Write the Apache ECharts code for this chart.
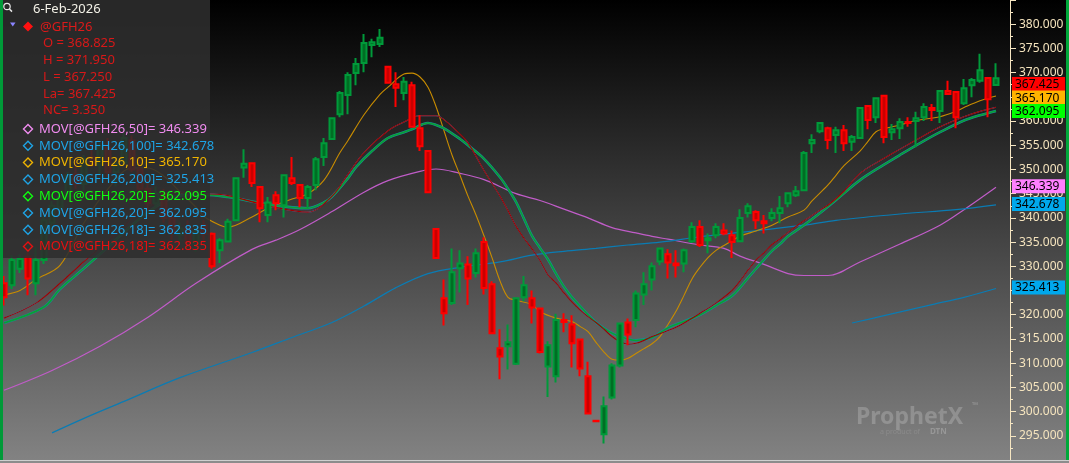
<!DOCTYPE html>
<html><head><meta charset="utf-8">
<script src="https://cdn.jsdelivr.net/npm/echarts@6/dist/echarts.min.js"></script>
<style>html,body{margin:0;padding:0;background:#000;}#c{width:1069px;height:463px;}</style>
</head><body><div id="c"></div>
<script>
// ---------------- DATA ----------------
const opens = [326.5,326.1,329.5,332.0,326.5,331.3,339.0,342.2,344.5,349.0,347.0,352.5,351.0,354.5,349.5,351.5,356.0,350.0,346.0,343.0,345.0,340.0,336.5,337.8,334.5,338.5,
336.7,333.3,335.1,339.5,350.4,351.3,346.4,340.6,344.7,342.6,348.2,346.8,344.1,346.8,352.6,356.3,361.4,365.4,369.9,372.0,375.7,375.9,371.2,367.6,365.8,367.4,358.5,353.8,
337.7,323.4,322.4,329.6,330.4,328.6,335.0,326.3,313.1,313.5,309.9,323.6,323.4,321.3,309.3,307.3,318.9,318.0,314.9,307.3,298.1,295.3,302.9,309.5,318.4,318.9,324.2,327.3,
331.0,332.5,330.6,330.6,335.2,338.1,335.4,336.4,337.4,336.4,335.2,341.0,341.2,339.3,340.0,341.0,343.0,344.7,345.7,355.4,357.9,358.5,357.1,358.1,355.7,356.5,363.1,360.8,
365.2,357.7,358.5,359.8,360.0,360.8,362.7,362.1,366.2,366.0,363.7,367.4,368.3,368.9,368.825];
const highs = [328.0,332.3,332.5,333.0,334.0,340.5,343.5,345.5,349.5,352.5,353.0,356.0,355.5,356.5,352.0,357.5,357.0,352.5,348.0,346.5,346.0,341.5,339.0,339.5,338.0,339.5,
337.0,335.8,339.8,348.4,354.2,351.5,346.6,344.3,345.5,349.0,352.6,347.0,346.8,352.6,356.5,360.8,366.2,370.1,373.0,378.0,377.0,379.0,371.3,370.1,369.1,368.1,361.2,353.9,
337.8,327.3,333.7,333.3,332.1,333.7,336.0,326.9,317.0,318.0,323.5,328.0,325.0,321.4,314.5,320.2,320.3,319.9,315.0,310.3,298.1,303.1,310.0,318.4,319.2,325.0,328.8,330.8,
333.9,333.5,333.3,333.7,339.1,339.5,336.8,338.9,338.9,337.4,341.8,343.0,341.6,340.6,342.0,344.5,345.3,346.6,353.8,357.3,359.8,358.8,358.8,359.2,357.1,362.9,363.3,364.9,
365.4,359.4,360.6,360.8,361.9,363.7,363.5,366.4,368.3,366.1,368.7,368.9,373.9,369.0,371.95];
const lows = [321.9,325.3,328.6,324.0,324.0,330.5,337.5,340.5,343.8,346.0,345.5,350.5,349.0,348.5,346.5,351.0,349.5,345.0,341.5,342.0,339.0,335.5,335.0,334.0,333.0,334.5,
329.5,330.7,335.0,339.3,348.3,346.4,339.1,339.1,341.6,340.1,346.8,342.2,342.0,345.7,350.7,356.2,360.8,361.4,367.4,370.1,373.2,375.3,367.7,362.9,364.3,358.6,353.8,345.1,
331.6,317.8,322.0,324.6,322.0,327.7,324.2,316.0,306.7,308.7,309.6,322.8,318.2,312.0,303.0,306.0,316.4,309.1,307.3,299.4,298.0,293.4,302.5,309.1,313.7,317.4,322.0,325.0,
330.2,327.5,327.7,328.8,334.8,334.0,332.7,335.8,336.4,331.7,335.0,340.1,337.7,336.8,339.3,338.9,342.2,344.3,345.5,353.4,357.5,354.2,353.4,353.8,353.8,356.3,358.3,359.6,
355.4,356.1,356.3,358.8,354.6,360.0,360.0,359.6,365.4,358.5,363.3,364.9,367.9,360.8,367.25];
const closes = [323.6,331.3,331.5,327.5,331.3,339.5,342.5,344.3,348.8,347.0,352.2,351.0,354.8,349.5,351.2,356.5,350.0,346.0,343.0,345.0,340.0,337.0,337.8,335.0,337.2,336.7,
330.0,335.4,339.2,348.2,351.2,347.2,342.0,343.2,343.0,348.8,347.2,344.1,346.4,352.1,355.4,360.6,365.8,369.5,371.8,376.1,376.3,377.2,367.9,366.9,368.1,358.8,354.8,345.3,
331.7,320.3,328.8,330.6,327.5,332.7,325.5,316.2,311.4,314.3,323.4,326.1,321.5,312.3,313.7,318.9,318.5,314.1,308.9,299.6,298.0,301.1,309.5,318.2,315.9,324.4,326.3,330.0,
333.7,330.8,330.2,333.3,338.1,334.4,335.8,338.1,336.8,335.0,340.0,342.4,339.5,338.9,341.0,342.0,345.1,345.5,353.4,356.1,359.6,356.1,358.1,355.4,356.7,362.7,360.2,364.7,
356.7,358.3,359.8,359.6,360.6,362.9,362.3,366.2,365.6,360.8,366.8,368.5,370.5,364.5,367.425];
const categories = opens.map((_, i) => String(i + 1));

// moving averages read at bar positions [barIndex, value]
const ma10 = [[0,324.1],[2,325.0],[4,327.3],[7,330.2],[10,339.0],[13,346.0],[16,350.3],[18,350.3],[20,348.6],[22,345.4],[24,342.2],[25,340.3],[27,338.5],[28,338.1],[31,340.2],[33,342.0],[36,343.9],[38,345.0],[40,347.8],[42,353.5],[43,356.0],[45,361.3],[47,365.5],[48,367.0],[50,369.7],[51,369.9],[52,369.1],[53,367.0],[54,363.0],[55,358.0],[56,353.0],[57,348.8],[58,344.5],[59,340.6],[60,336.3],[61,331.8],[62,327.0],[63,323.6],[64,323.0],[66,322.1],[67,320.6],[69,319.3],[71,318.6],[72,317.6],[73,316.5],[74,314.3],[75,312.3],[76,310.8],[77,310.6],[78,311.0],[79,312.0],[80,313.0],[81,314.0],[82,315.5],[83,318.0],[84,320.7],[85,324.0],[86,327.4],[87,329.8],[88,331.8],[89,333.3],[90,334.3],[92,336.2],[94,337.3],[96,338.5],[98,340.2],[100,341.6],[101,343.5],[103,346.8],[104,348.8],[105,350.8],[107,353.8],[108,355.8],[109,357.8],[110,358.4],[112,359.2],[114,360.1],[117,360.9],[119,362.0],[120,362.8],[122,364.2],[124,365.17]];
const ma20 = [[0,318.3],[5,321.6],[7,325.3],[10,329.6],[13,334.0],[16,338.5],[19,342.3],[22,344.6],[25,344.8],[28,344.3],[33,342.8],[38,342.0],[40,343.2],[41,344.4],[43,348.2],[44,350.5],[46,353.8],[48,356.5],[50,357.7],[51,358.3],[53,359.6],[54,359.2],[55,358.5],[57,356.3],[58,355.0],[60,352.2],[62,348.4],[63,346.0],[64,343.3],[65,339.8],[66,336.3],[67,333.8],[68,331.4],[69,328.5],[70,325.8],[71,323.6],[72,321.8],[73,320.0],[74,318.4],[75,317.2],[76,316.2],[77,315.5],[79,314.7],[81,315.3],[83,317.3],[85,318.6],[87,320.0],[89,321.9],[91,323.9],[92,325.6],[93,327.6],[94,329.5],[95,331.4],[96,333.2],[97,334.6],[98,336.2],[100,338.5],[102,341.0],[104,343.7],[107,347.8],[110,351.0],[112,353.0],[115,355.9],[117,357.7],[120,360.1],[122,361.2],[124,362.095]];
const ma18 = [[0,319.3],[4,322.4],[7,326.5],[10,331.0],[13,335.3],[16,339.8],[19,343.2],[22,345.3],[25,345.0],[28,344.6],[33,342.5],[38,341.2],[41,344.5],[43,349.0],[45,353.5],[48,358.0],[50,359.8],[52,361.1],[54,361.1],[55,360.3],[57,357.3],[58,355.5],[60,349.8],[62,344.5],[63,341.5],[64,338.3],[65,335.8],[66,333.6],[67,331.2],[68,328.2],[69,326.6],[70,324.5],[71,322.6],[72,321.0],[73,319.6],[74,318.4],[75,317.0],[76,315.5],[77,314.4],[78,313.9],[79,314.1],[80,314.7],[81,315.5],[84,317.4],[87,320.3],[89,322.4],[91,325.0],[92,327.0],[93,329.2],[94,331.3],[95,332.8],[96,334.5],[97,335.7],[98,337.0],[100,339.4],[102,341.6],[103,342.6],[105,345.5],[107,349.2],[110,352.3],[112,354.2],[115,357.0],[117,358.8],[120,360.9],[122,362.0],[124,362.835]];
const ma50 = [[0,304.4],[6,308.5],[12,313.5],[18,319.5],[24,326.5],[31,333.5],[34,335.4],[37,337.6],[41,341.3],[45,345.3],[48,347.7],[52,349.6],[54,350.1],[57,349.2],[60,347.9],[64,345.0],[67,343.6],[70,341.8],[73,340.0],[76,338.0],[79,336.9],[81,336.2],[83,335.6],[87,334.4],[90,333.7],[92,332.1],[95,330.4],[98,328.5],[100,328.1],[103,328.1],[107,330.9],[112,334.6],[117,338.5],[120,341.7],[124,346.339]];
const ma100 = [[6,295.6],[10,298.6],[15,302.1],[22,307.0],[31,312.2],[36,315.3],[41,318.4],[45,321.8],[49,325.6],[53,328.5],[57,329.8],[62,330.9],[66,332.3],[70,333.1],[74,333.7],[78,334.4],[82,335.0],[87,336.1],[92,337.0],[100,338.5],[104,339.5],[112,340.8],[119,341.7],[124,342.678]];
const ma200 = [[106,318.3],[110,319.8],[116,322.1],[120,323.6],[124,325.413]];

// legend / header texts
const dateText = '6-Feb-2026';
const symbolText = '@GFH26';
const quoteLines = ['O = 368.825', 'H = 371.950', 'L = 367.250', 'La= 367.425', 'NC= 3.350'];
const studyLines = ['MOV[@GFH26,50]= 346.339', 'MOV[@GFH26,100]= 342.678', 'MOV[@GFH26,10]= 365.170', 'MOV[@GFH26,200]= 325.413',
  'MOV[@GFH26,20]= 362.095', 'MOV[@GFH26,20]= 362.095', 'MOV[@GFH26,18]= 362.835', 'MOV[@GFH26,18]= 362.835'];
const studyColors = ['#f08cf0', '#1ea4e6', '#f0b400', '#1ea4e6', '#10ff10', '#1ea4e6', '#1ea4e6', '#e81010'];
const tagValues = [367.425, 365.170, 362.095, 346.339, 342.678, 325.413];
const tagColors = ['#ff0000', '#ffb400', '#00ff00', '#ff80ff', '#00a8ec', '#00a8ec'];

// ---------------- CHART ----------------
const UP = {fill: '#006e24', border: '#009a3a'};
const DN = {fill: '#c80000', border: '#ff0000'};
const candleData = opens.map((o, i) => {
  const up = i === 0 ? closes[i] >= o : closes[i] >= closes[i - 1];
  const c = up ? UP : DN;
  return {value: [o, closes[i], lows[i], highs[i]],
    itemStyle: {color: c.fill, color0: c.fill, borderColor: c.border, borderColor0: c.border, borderColorDoji: c.border}};
});

function lineSeries(name, data, color, width, z) {
  return {name, type: 'line', data, smooth: 0.35, showSymbol: false, symbol: 'none', connectNulls: true,
    lineStyle: {color, width}, z: z || 2, silent: true, animation: false};
}

const chart = echarts.init(document.getElementById('c'), null, {renderer: 'canvas'});
const FONT = '"Noto Sans", "Open Sans", sans-serif';
chart.setOption({
  animation: false,
  backgroundColor: {type: 'linear', x: 0, y: 0, x2: 0, y2: 1,
    colorStops: [{offset: 0, color: '#000000'}, {offset: 1, color: '#838383'}]},
  grid: {left: 0, right: 69, top: 0, bottom: 3},
  xAxis: {type: 'category', data: categories, show: false, boundaryGap: true},
  yAxis: {type: 'value', position: 'right', offset: 10, min: 290, max: 385, interval: 5, scale: true,
    axisLine: {show: true, lineStyle: {color: '#f6e6c2', width: 1}},
    axisTick: {show: true, length: 6, lineStyle: {color: '#f6e6c2'}},
    minorTick: {show: true, splitNumber: 2, length: 3, lineStyle: {color: '#f6e6c2'}},
    splitLine: {show: false},
    axisLabel: {show: true, margin: 9, color: '#f5e4be', fontSize: 12, fontFamily: FONT,
      showMinLabel: false, showMaxLabel: false, formatter: v => v.toFixed(3)}},
  series: [
    lineSeries('MOV50', ma50, '#c05cc8', 1.2),
    lineSeries('MOV100', ma100, '#0a7cb4', 1.2),
    lineSeries('MOV200', ma200, '#0a7cb4', 1.2),
    lineSeries('MOV10', ma10, '#c88c00', 1.1),
    lineSeries('MOV20b', ma20, '#168a9c', 2.6),
    lineSeries('MOV20', ma20, '#0aa032', 1.5, 3),
    lineSeries('MOV18b', ma18, '#1ea4e6', 1),
    lineSeries('MOV18', ma18, '#a00000', 1.1, 3),
    {name: '@GFH26', type: 'candlestick', data: candleData, barWidth: 5, z: 5,
      itemStyle: {borderWidth: 2}, silent: true}
  ]
});

// ---------------- OVERLAYS ----------------
const g = [];
g.push({type: 'rect', z: 90, shape: {x: 0, y: 0, width: 3, height: 460}, style: {fill: '#009a38'}});
g.push({type: 'rect', z: 90, shape: {x: 1066, y: 0, width: 3, height: 460}, style: {fill: '#00a83a'}});
g.push({type: 'rect', z: 90, shape: {x: 0, y: 460, width: 1069, height: 3}, style: {fill: '#8c8c8c'}});
g.push({type: 'rect', z: 90, shape: {x: 0, y: 460, width: 1069, height: 1}, style: {fill: '#cfcfcf'}});
// legend panel
g.push({type: 'rect', z: 100, shape: {x: 3, y: 0, width: 207, height: 258}, style: {fill: 'rgba(46,46,46,0.87)'}});
// magnifier icon
g.push({type: 'circle', z: 101, shape: {cx: 7, cy: 6.5, r: 3.2}, style: {fill: 'none', stroke: '#e8e8e8', lineWidth: 1.2}});
g.push({type: 'line', z: 101, shape: {x1: 9.4, y1: 9, x2: 12, y2: 11.6}, style: {stroke: '#e8e8e8', lineWidth: 1.5}});
g.push({type: 'text', z: 101, style: {text: dateText, x: 33, y: 9.5, fill: '#f2f0e6', font: '13px ' + FONT, verticalAlign: 'middle', textVerticalAlign: 'middle'}});
g.push({type: 'polygon', z: 101, shape: {points: [[10, 22.5], [15.5, 22.5], [12.75, 26.5]]}, style: {fill: '#8a84ff'}});
g.push({type: 'polygon', z: 101, shape: {points: [[28, 21.5], [33, 26.5], [28, 31.5], [23, 26.5]]}, style: {fill: '#ff1010'}});
g.push({type: 'text', z: 101, style: {text: symbolText, x: 40, y: 27, fill: '#dc1a1a', font: '13px ' + FONT, verticalAlign: 'middle', textVerticalAlign: 'middle'}});
quoteLines.forEach((t, i) => {
  g.push({type: 'text', z: 101, style: {text: t, x: 43, y: 43.5 + i * 16.8, fill: '#d81818', font: '13px ' + FONT, verticalAlign: 'middle', textVerticalAlign: 'middle'}});
});
studyLines.forEach((t, i) => {
  const cy = 129 + i * 16.8;
  g.push({type: 'polygon', z: 101, shape: {points: [[28, cy - 4.5], [32.5, cy], [28, cy + 4.5], [23.5, cy]]},
    style: {fill: 'none', stroke: studyColors[i], lineWidth: 1.4}});
  g.push({type: 'text', z: 101, style: {text: t, x: 39, y: cy, fill: studyColors[i], font: '13px ' + FONT, verticalAlign: 'middle', textVerticalAlign: 'middle'}});
});
// watermark
g.push({type: 'text', z: 50, style: {text: 'ProphetX', x: 856, y: 417, fill: 'rgba(255,255,255,0.2)', font: 'bold 23px ' + FONT, verticalAlign: 'middle', textVerticalAlign: 'middle'}});
g.push({type: 'text', z: 50, style: {text: '™', x: 972, y: 406, fill: 'rgba(255,255,255,0.25)', font: '8px ' + FONT, verticalAlign: 'middle', textVerticalAlign: 'middle'}});
g.push({type: 'text', z: 50, style: {text: 'a product of', x: 880, y: 432, fill: 'rgba(255,255,255,0.12)', font: '7px ' + FONT, verticalAlign: 'middle', textVerticalAlign: 'middle'}});
g.push({type: 'text', z: 50, style: {text: 'DTN', x: 930, y: 432, fill: 'rgba(255,255,255,0.22)', font: 'bold 8px ' + FONT, verticalAlign: 'middle', textVerticalAlign: 'middle'}});

// price tags on the axis (stacked to avoid overlap)
const tags = tagValues.map((v, i) => ({v, color: tagColors[i], y: chart.convertToPixel({yAxisIndex: 0}, v) - 1}));
tags.sort((a, b) => a.y - b.y);
const TAG_H = 14;
for (let i = 1; i < tags.length; i++) {
  if (tags[i].y < tags[i - 1].y + TAG_H - 0.5) tags[i].y = tags[i - 1].y + TAG_H - 0.5;
}
tags.forEach(t => {
  g.push({type: 'rect', z: 110, shape: {x: 1012, y: t.y - TAG_H / 2, width: 53, height: TAG_H}, style: {fill: t.color}});
  g.push({type: 'text', z: 111, style: {text: t.v.toFixed(3), x: 1015, y: t.y + 0.5, fill: '#000000', font: '12px ' + FONT, verticalAlign: 'middle', textVerticalAlign: 'middle'}});
});

chart.setOption({graphic: g});
</script>
</body></html>
